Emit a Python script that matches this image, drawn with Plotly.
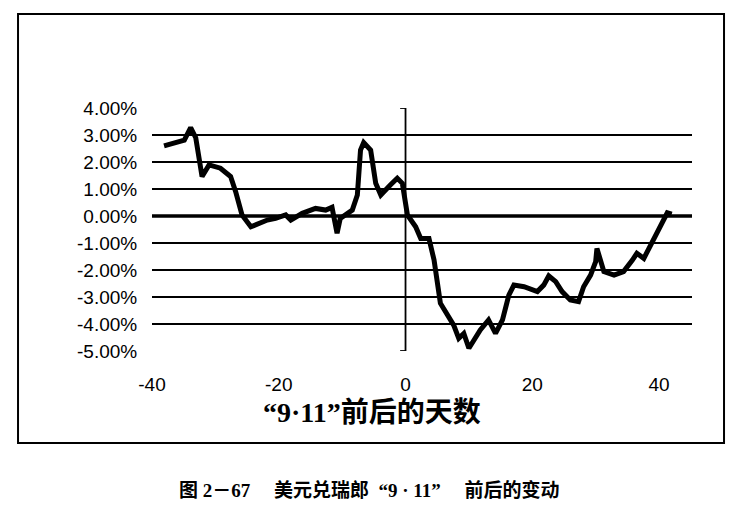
import plotly.graph_objects as go

# Days relative to 9/11 and USD/CHF change (%)
days = [-38.1, -34.9, -33.9, -33.1, -32.1, -31.0, -29.2, -27.6, -26.8, -25.8,
        -24.4, -21.8, -20.5, -18.9, -18.1, -16.3, -14.2, -12.6, -11.6, -10.8,
        -10.3, -8.4, -7.6, -7.1, -6.6, -5.5, -4.7, -3.9, -2.4, -1.3,
        -0.5, 0.3, 1.6, 2.4, 3.7, 4.5, 5.5, 6.6, 7.6, 8.4,
        9.2, 10.0, 11.8, 13.1, 14.2, 15.3, 16.3, 17.1, 18.7, 20.8,
        21.8, 22.6, 23.7, 24.7, 26.0, 27.3, 28.1, 29.2, 30.0, 30.2,
        30.8, 31.3, 32.9, 34.4, 35.8, 36.5, 37.6, 38.4, 39.7, 41.3,
        42.0]
change_pct = [2.6, 2.81, 3.27, 2.9, 1.46, 1.89, 1.77, 1.46, 0.9, 0.04,
              -0.4, -0.15, -0.09, 0.04, -0.15, 0.1, 0.28, 0.22, 0.32, -0.64,
              -0.09, 0.22, 0.78, 2.44, 2.72, 2.44, 1.21, 0.78, 1.15, 1.4,
              1.21, 0.04, -0.4, -0.83, -0.83, -1.63, -3.23, -3.67, -4.04, -4.53,
              -4.35, -4.9, -4.22, -3.85, -4.35, -3.85, -2.93, -2.56, -2.62, -2.8,
              -2.56, -2.22, -2.43, -2.8, -3.11, -3.17, -2.62, -2.19, -1.69, -1.2,
              -1.63, -2.06, -2.19, -2.06, -1.63, -1.38, -1.57, -1.2, -0.52, 0.12,
              0.07]

y_ticks = [4, 3, 2, 1, 0, -1, -2, -3, -4, -5]
y_tick_labels = [f"{v:.2f}%" for v in y_ticks]
x_ticks = [-40, -20, 0, 20, 40]
x_tick_labels = [str(v) for v in x_ticks]
grid_levels = [3, 2, 1, -1, -2, -3, -4]

x_title = "“9·11”前后的天数"
caption = "图 2－67　 美元兑瑞郎  “9 · 11”　 前后的变动"

fig = go.Figure()
fig.add_trace(go.Scatter(
    x=days, y=change_pct, mode="lines",
    line=dict(color="black", width=5),
    hoverinfo="skip", showlegend=False,
))

shapes = []
for g in grid_levels:
    shapes.append(dict(type="line", xref="paper", yref="y", x0=0, x1=1, y0=g, y1=g,
                       line=dict(color="black", width=2), layer="below"))
# thick zero line
shapes.append(dict(type="line", xref="paper", yref="y", x0=0, x1=1, y0=0, y1=0,
                   line=dict(color="black", width=3.5), layer="below"))
# vertical axis at day 0
shapes.append(dict(type="line", xref="x", yref="y", x0=0, x1=0, y0=-5, y1=4,
                   line=dict(color="black", width=1.8)))
for yv in (4, -5):
    shapes.append(dict(type="line", xref="x", yref="y", x0=-0.85, x1=0, y0=yv, y1=yv,
                       line=dict(color="black", width=1.8)))
# outer frame
shapes.append(dict(type="rect", xref="paper", yref="paper",
                   x0=-0.2481, x1=1.0593, y0=-0.3786, y1=1.3868,
                   line=dict(color="black", width=2), fillcolor="rgba(0,0,0,0)"))

# page body has an 8px margin, so the figure is shifted by 8px and sized accordingly
fig.update_layout(
    width=743, height=505,
    margin=dict(l=144, r=59, t=100, b=162),
    paper_bgcolor="white", plot_bgcolor="white",
    shapes=shapes,
    font=dict(family="Liberation Sans, Arial, sans-serif", color="black", size=19),
    xaxis=dict(range=[-40, 45.2], tickvals=x_ticks, ticktext=x_tick_labels,
               showgrid=False, zeroline=False, showline=False,
               ticks="outside", ticklen=16, tickcolor="rgba(0,0,0,0)",
               tickfont=dict(size=19)),
    yaxis=dict(range=[-5, 4], tickvals=y_ticks, ticktext=y_tick_labels,
               showgrid=False, zeroline=False, showline=False,
               ticks="outside", ticklen=10, tickcolor="rgba(0,0,0,0)",
               tickfont=dict(size=19)),
    annotations=[
        dict(text=f"<b>{x_title}</b>", xref="paper", yref="paper",
             x=0.408, y=-0.255, showarrow=False, xanchor="center", yanchor="middle",
             font=dict(family="Liberation Serif, Noto Sans CJK SC", size=28)),
        dict(text=f"<b>{caption}</b>", xref="paper", yref="paper",
             x=0.4037, y=-0.572, showarrow=False, xanchor="center", yanchor="middle",
             font=dict(family="Liberation Serif, Noto Sans CJK SC", size=19)),
    ],
)

fig.write_html("out.html")
